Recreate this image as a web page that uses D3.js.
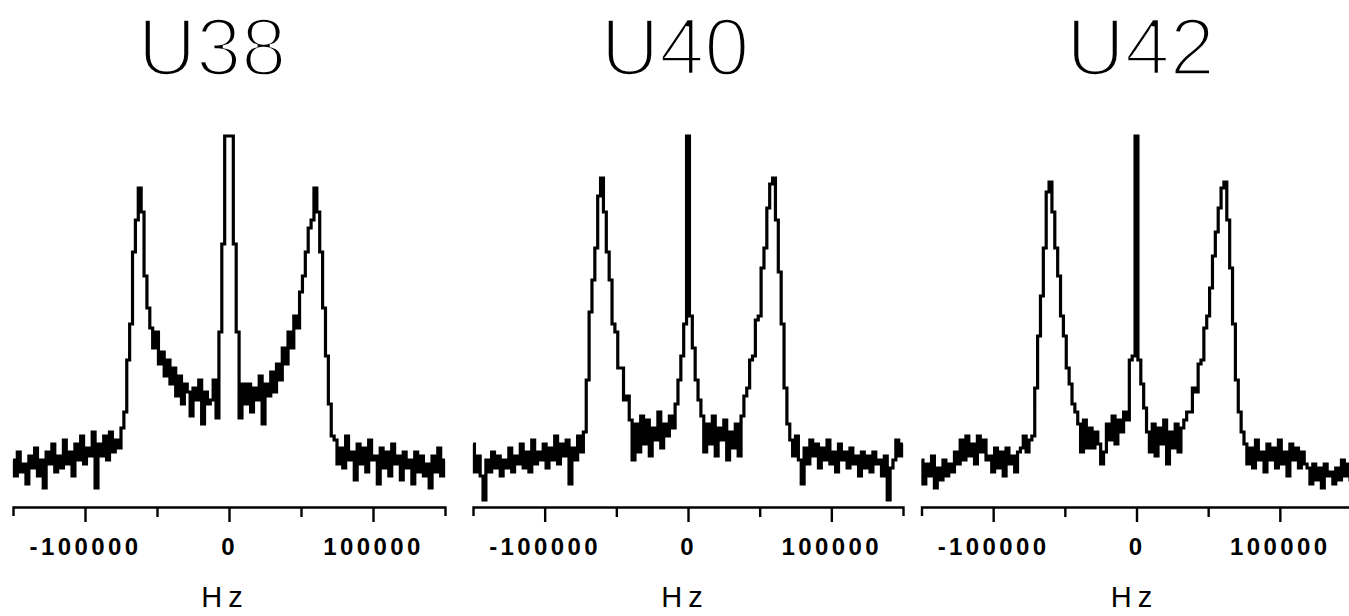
<!DOCTYPE html>
<html lang="en">
<head>
<meta charset="utf-8">
<title>U38 / U40 / U42</title>
<style>
    body { margin: 0; background: #fff; }
    svg { display: block; }
</style>
</head>
<body>
<script src="https://cdn.jsdelivr.net/npm/d3@7/dist/d3.min.js"></script>
<script>
    // frequency grid (Hz), one sample every 2000 Hz
    var freqs = d3.range(-150000, 150001, 2000);

    var titles = ["U38", "U40", "U42"];
    var tickValues = [-100000, -50000, 0, 50000, 100000];
    var tickLabels = ["-100000", "", "0", "", "100000"];
    var axisTitle = "Hz";

    // intensities (arbitrary units)
    var u38 = [
        10, 6, 12, 7, 9, 4, 11, 8, 13, 6, 10, 3, 12, 9, 14, 7, 11, 8, 15, 9,
        12, 6, 14, 10, 16, 9, 13, 11, 17, 3, 14, 11, 16, 10, 17, 12, 15, 13, 18,
        22, 35, 44, 62, 70, 78, 72, 56, 48, 43, 38, 42, 34, 37, 31, 35, 29, 33, 26, 31,
        24, 29, 27, 21, 28, 25, 30, 19, 27, 24, 25, 30, 20.5,
        42, 64, 91, 91, 91, 64, 42, 20.5,
        29, 24, 29, 22, 28, 25, 31, 19, 29, 26, 32, 27, 34, 30, 38, 34, 42, 38, 46, 43,
        52, 56, 62, 68, 70, 78, 72, 62, 48, 36, 24, 16,
        15, 9, 13, 8, 16, 10, 12, 5, 14, 9, 13, 7, 15, 10, 11, 4, 13, 8, 12, 6,
        14, 9, 11, 5, 12, 8, 10, 4, 12, 7, 11, 6, 9, 3, 11, 7, 13, 6, 10
    ];

    var u40 = [
        14, 7, 11, 6, 0, 10, 7, 12, 8, 11, 6, 10, 8, 13, 7, 11, 9, 14, 8, 12,
        7, 15, 9, 12, 10, 14, 8, 13, 10, 16, 9, 14, 11, 15, 4, 13, 10, 16, 12,
        17, 30, 47, 55, 63, 76, 80.5, 72, 62, 55, 44, 42, 33, 33, 25, 26, 20, 10,
        19, 12, 21, 14, 20, 11, 18, 15, 22, 13, 19, 16, 21, 18,
        24, 30, 36, 44, 91, 46, 38, 30, 25, 21,
        12, 19, 14, 21, 11, 18, 15, 20, 10, 17, 13, 19, 11,
        21, 26, 28, 35, 36, 45, 46, 58, 63, 73, 79, 80.5, 70, 57, 44, 28, 19, 15,
        11, 16, 10, 4, 13, 9, 15, 11, 14, 8, 13, 10, 15, 9, 12, 7, 14, 10, 12, 8,
        13, 9, 11, 6, 12, 8, 11, 7, 12, 9, 10, 6, 11, 0, 8, 10, 15, 11, 14
    ];

    var u42 = [
        10, 4, 9, 6, 11, 3, 8, 5, 10, 6, 9, 7, 12, 9, 15, 10, 16, 11, 14, 9,
        16, 12, 15, 10, 11, 7, 13, 8, 12, 6, 13, 9, 11, 7, 12, 13, 16, 12, 15,
        16, 28, 41, 51, 63, 77, 79.5, 72, 63, 56, 46, 41, 33, 29, 24, 22,
        19, 12, 20, 13, 18, 13, 17, 14, 9, 12, 19, 15, 21, 14, 20, 17, 22, 20,
        35, 36, 91, 35, 29, 23,
        17, 12, 19, 11, 18, 14, 20, 9, 17, 13, 19, 12, 18,
        20, 22, 22, 28, 27, 34, 35, 43, 46, 53, 61, 67, 73, 78, 79.5, 70, 58, 44, 30, 22, 17,
        14, 9, 13, 8, 15, 10, 12, 7, 14, 10, 13, 8, 15, 9, 12, 6, 14, 10, 13, 8,
        12, 9, 8, 4, 9, 5, 8, 3, 9, 6, 7, 4, 8, 5, 10, 6, 9, 5
    ];

    var spectra = [u38, u40, u42];

    function main() {
        var width = 1349,
            height = 616,
            axisY = 507;

        // pixel layout of the three panels
        var panels = [
            {x0: 13, x1: 445, titleDx: -17, labelDx: -4},
            {x0: 473, x1: 903, titleDx: -13, labelDx: -3},
            {x0: 921.5, x1: 1351.5, titleDx: 4, labelDx: -2}
        ];

        var svg = d3.select("body").append("svg")
            .attr("width", width)
            .attr("height", height);

        svg.append("rect").attr("width", width).attr("height", height).attr("fill", "#fff");

        var y = d3.scaleLinear().domain([0, 100]).range([500, 100]);

        panels.forEach(function (p, k) {
            var x = d3.scaleLinear().domain([-150000, 150000]).range([p.x0, p.x1]);
            var cx = x(0);
            var g = svg.append("g");

            // title
            g.append("text")
                .attr("x", cx + p.titleDx)
                .attr("y", 75)
                .attr("text-anchor", "middle")
                .attr("font-family", "Liberation Sans, Arial, sans-serif")
                .attr("font-size", 81)
                .attr("fill", "#000")
                .attr("stroke", "#fff")
                .attr("stroke-width", 3.4)
                .text(titles[k]);

            // spectrum
            var line = d3.line()
                .x(function (d, i) { return x(freqs[i]); })
                .y(function (d) { return y(d); })
                .curve(d3.curveStep);

            g.append("path")
                .datum(spectra[k])
                .attr("d", line)
                .attr("fill", "none")
                .attr("stroke", "#000")
                .attr("stroke-width", 3.2);

            // axis
            var axis = d3.axisBottom(x)
                .tickValues(tickValues)
                .tickSize(15)
                .tickSizeOuter(9)
                .tickPadding(0)
                .tickFormat(function (d, i) { return tickLabels[i]; });

            var ag = g.append("g")
                .attr("transform", "translate(0," + axisY + ")")
                .call(axis);

            ag.select(".domain").attr("stroke-width", 2.4);
            ag.selectAll(".tick line")
                .attr("stroke-width", 2.4)
                .attr("y2", function (d, i) { return tickLabels[i] ? 15 : 10; });
            ag.selectAll(".tick text")
                .attr("y", 48)
                .attr("dy", 0)
                .attr("fill", "#000")
                .attr("font-family", "Liberation Sans, Arial, sans-serif")
                .attr("font-weight", "bold")
                .attr("font-size", 24)
                .attr("letter-spacing", 3.4);

            // axis title
            g.append("text")
                .attr("x", cx + p.labelDx)
                .attr("y", 607)
                .attr("text-anchor", "middle")
                .attr("font-family", "Liberation Sans, Arial, sans-serif")
                .attr("font-size", 29)
                .attr("letter-spacing", 6)
                .attr("fill", "#000")
                .text(axisTitle);
        });
    }

    window.onload = function () {
        main();
    };
</script>
</body>
</html>
